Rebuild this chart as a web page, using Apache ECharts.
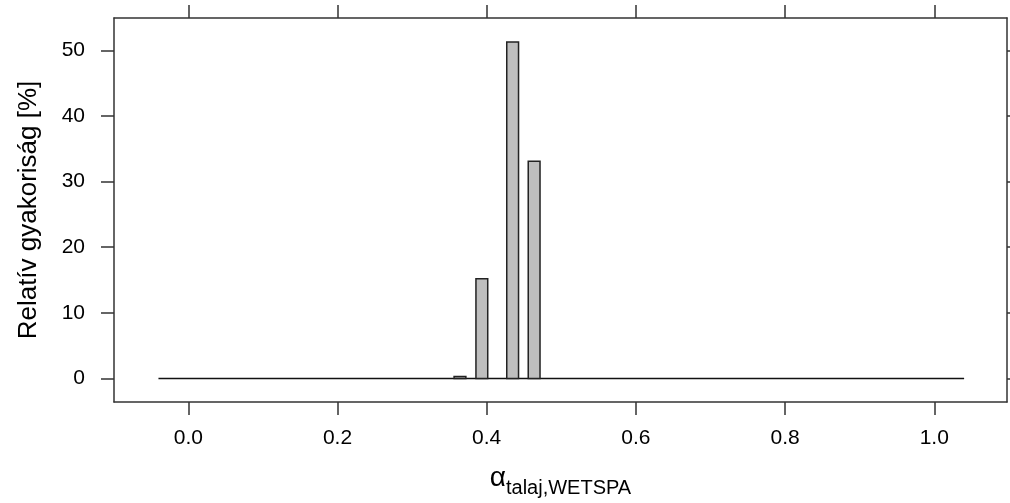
<!DOCTYPE html>
<html>
<head>
<meta charset="utf-8">
<script src="https://cdn.jsdelivr.net/npm/echarts@6/dist/echarts.min.js"></script>
<style>
  html, body { margin: 0; padding: 0; background: #fff; }
  #main { width: 1010px; height: 503px; }
</style>
</head>
<body>
<div id="main"></div>
<script>
  // histogram bars: centre, relative frequency [%]
  let binCenters = [0.3642, 0.3935, 0.4348, 0.4636],
      binValues = [0.3, 15.2, 51.3, 33.1],
      binWidth = 0.0158;
  // zero reference line
  let baseLine = [[-0.04, 0], [1.04, 0]];
  let xTicks = [0, 0.2, 0.4, 0.6, 0.8, 1.0],
      yTicks = [0, 10, 20, 30, 40, 50];

  let xMin = -0.0996, xMax = 1.0975,
      yMin = -3.6, yMax = 54.95;

  let barData = binCenters.map((c, i) => [c, binValues[i]]);

  let lineCol = '#333';
  let font = 'Liberation Sans, Arial, sans-serif';

  function xAx(pos, showLabel) {
    return {
      type: 'value', position: pos, min: xMin, max: xMax,
      splitLine: { show: false },
      axisLine: { show: true, onZero: false, lineStyle: { color: lineCol, width: 1.5 } },
      axisTick: { show: true, inside: false, length: 13, customValues: xTicks,
                  lineStyle: { color: lineCol, width: 1.5 } },
      axisLabel: { show: showLabel, customValues: xTicks, margin: 26, color: '#000',
                   fontSize: 21, fontFamily: font, formatter: v => v.toFixed(1) }
    }
  }
  function yAx(pos, showLabel) {
    return {
      type: 'value', position: pos, min: yMin, max: yMax,
      splitLine: { show: false },
      axisLine: { show: true, onZero: false, lineStyle: { color: lineCol, width: 1.5 } },
      axisTick: { show: true, inside: false, length: 13, customValues: yTicks,
                  lineStyle: { color: lineCol, width: 1.5 } },
      axisLabel: { show: showLabel, customValues: yTicks, margin: 29, color: '#000',
                   fontSize: 21, fontFamily: font }
    }
  }

  let xBottom = xAx('bottom', true);
  xBottom.name = '{a|α}{b|talaj,WETSPA}';
  xBottom.nameLocation = 'middle';
  xBottom.nameGap = 62;
  xBottom.nameTextStyle = {
    rich: {
      a: { fontSize: 28, fontFamily: font, color: '#000', verticalAlign: 'bottom' },
      b: { fontSize: 20, fontFamily: font, color: '#000', verticalAlign: 'bottom', padding: [0, 0, -6, 0] }
    }
  };
  let yLeft = yAx('left', true);
  yLeft.name = 'Relatív gyakoriság [%]';
  yLeft.nameLocation = 'middle';
  yLeft.nameGap = 72;
  yLeft.nameTextStyle = { fontSize: 26, fontFamily: font, color: '#000' };

  var myChart = echarts.init(document.getElementById('main'));
  var option = {
    animation: false,
    backgroundColor: '#fff',
    grid: { left: 114, right: 3, top: 18, bottom: 95, containLabel: false },
    xAxis: [xBottom, xAx('top', false)],
    yAxis: [yLeft, yAx('right', false)],
    series: [
      {
        type: 'line',
        data: baseLine,
        symbol: 'none',
        lineStyle: { color: '#111', width: 1.5 },
        z: 2
      },
      {
        type: 'custom',
        data: barData,
        renderItem: function (params, api) {
          let c = api.value(0), v = api.value(1);
          let p0 = api.coord([c - binWidth / 2, v]);
          let p1 = api.coord([c + binWidth / 2, 0]);
          return {
            type: 'rect',
            shape: { x: p0[0], y: p0[1], width: p1[0] - p0[0], height: p1[1] - p0[1] },
            style: { fill: '#bebebe', stroke: '#222', lineWidth: 1.5 }
          };
        },
        z: 3
      }
    ]
  };
  myChart.setOption(option);
</script>
</body>
</html>
